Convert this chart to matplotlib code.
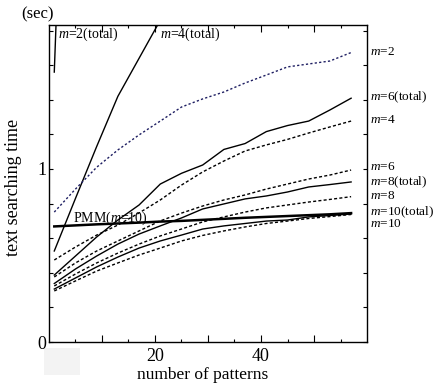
import numpy as np
import matplotlib
matplotlib.use('Agg')
import matplotlib.pyplot as plt
from matplotlib.patches import Rectangle

plt.rcParams['font.family'] = 'Liberation Serif'
plt.rcParams['mathtext.fontset'] = 'custom'
plt.rcParams['mathtext.rm'] = 'Liberation Serif'
plt.rcParams['mathtext.it'] = 'Liberation Serif:italic'

# number of patterns
n_pat = [1, 5, 9, 13, 17, 21, 25, 29, 33, 37, 41, 45, 49, 53, 57]

# totals (solid)
m2_total = [1.56, 4.9]
m4_total = [0.526, 0.83, 1.13, 1.42, 1.64, 1.86]
m6_total = [0.387, 0.497, 0.607, 0.705, 0.792, 0.913, 0.975, 1.023, 1.113, 1.147,
            1.216, 1.251, 1.277, 1.341, 1.409]
m8_total = [0.338, 0.422, 0.497, 0.566, 0.624, 0.671, 0.717, 0.769, 0.798, 0.827,
            0.844, 0.867, 0.896, 0.910, 0.925]
m10_total = [0.306, 0.370, 0.434, 0.491, 0.543, 0.584, 0.618, 0.653, 0.671, 0.685,
             0.699, 0.705, 0.723, 0.731, 0.740]

# searching only (dashed)
m2 = [0.751, 0.884, 1.010, 1.110, 1.197, 1.277, 1.358, 1.405, 1.445, 1.497,
      1.543, 1.590, 1.607, 1.624, 1.673]
m4 = [0.474, 0.549, 0.618, 0.676, 0.746, 0.821, 0.907, 0.983, 1.046, 1.104,
      1.139, 1.171, 1.208, 1.243, 1.277]
m6 = [0.376, 0.457, 0.526, 0.584, 0.642, 0.700, 0.745, 0.786, 0.821, 0.850,
      0.884, 0.913, 0.942, 0.965, 0.994]
m8 = [0.324, 0.393, 0.457, 0.514, 0.566, 0.613, 0.653, 0.694, 0.723, 0.751,
      0.775, 0.792, 0.809, 0.824, 0.840]
m10 = [0.295, 0.353, 0.410, 0.457, 0.503, 0.543, 0.584, 0.616, 0.642, 0.665,
       0.685, 0.699, 0.714, 0.725, 0.737]

pmm = [0.668, 0.674, 0.680, 0.685, 0.690, 0.696, 0.700, 0.706, 0.712, 0.718,
       0.723, 0.728, 0.733, 0.738, 0.745]

right_labels = ['$m$=2', '$m$=6(total)', '$m$=4', '$m$=6', '$m$=8(total)',
                '$m$=8', '$m$=10(total)', '$m$=10']
right_label_y = [1.676, 1.416, 1.283, 1.012, 0.925, 0.844, 0.751, 0.682]

fig = plt.figure(figsize=(4.35, 3.91), dpi=100)
ax = fig.add_axes([0.1126, 0.1253, 0.7311, 0.8107])

dash = (0, (2.2, 1.6))
ax.plot(n_pat[:len(m2_total)], m2_total, color='black', lw=1.0)
ax.plot(n_pat[:len(m4_total)], m4_total, color='black', lw=1.0)
ax.plot(n_pat, m6_total, color='black', lw=1.0)
ax.plot(n_pat, m8_total, color='black', lw=1.0)
ax.plot(n_pat, m10_total, color='black', lw=1.0)
ax.plot(n_pat, m2, color='#1e1e62', lw=1.0, linestyle=(0, (1.6, 1.6)))
ax.plot(n_pat, m4, color='black', lw=1.0, linestyle=dash)
ax.plot(n_pat, m6, color='black', lw=1.0, linestyle=dash)
ax.plot(n_pat, m8, color='black', lw=1.0, linestyle=dash)
ax.plot(n_pat, m10, color='black', lw=1.0, linestyle=dash)
ax.plot(n_pat, pmm, color='black', lw=1.8)

ax.set_xlim(0, 60)
ax.set_ylim(0, 1.832)

ax.set_xticks([10, 20, 30, 40, 50])
ax.set_xticklabels(['', '20', '', '40', ''])
ax.set_xticks([5, 15, 25, 35, 45, 55], minor=True)
ax.set_yticks([0, 1])
ax.set_yticklabels(['0', '1'])
ax.set_yticks([0.2, 0.4, 0.6, 0.8, 1.2, 1.4, 1.6, 1.8], minor=True)

ax.tick_params(axis='both', which='both', direction='in', top=True, right=True,
               labelsize=13, width=0.8)
ax.tick_params(axis='x', which='major', length=5, pad=4)
ax.tick_params(axis='x', which='minor', length=2.5)
ax.tick_params(axis='y', which='both', length=3, pad=2)
for s in ax.spines.values():
    s.set_linewidth(1.0)

for lab, yv in zip(right_labels, right_label_y):
    ax.text(60.5, yv, lab, fontsize=9.5, va='center', ha='left', clip_on=False)

ax.text(1.75, 1.78, '$m$=2(total)', fontsize=10, va='center', ha='left')
ax.text(20.9, 1.78, '$m$=4(total)', fontsize=10, va='center', ha='left')
ax.text(4.6, 0.717, 'PMM($m$=10)', fontsize=10, va='center', ha='left')

fig.text(0.05, 0.962, '(sec)', fontsize=12, ha='left', va='center')
fig.text(0.032, 0.52, 'text searching time', fontsize=13, rotation=90,
         ha='center', va='center')
fig.text(0.466, 0.02, 'number of patterns', fontsize=12.5, ha='center', va='bottom')

fig.patches.append(Rectangle((0.101, 0.041), 0.084, 0.069, transform=fig.transFigure,
                             facecolor='#f3f3f3', edgecolor='none', zorder=-1))

fig.savefig('out.png', dpi=100)
